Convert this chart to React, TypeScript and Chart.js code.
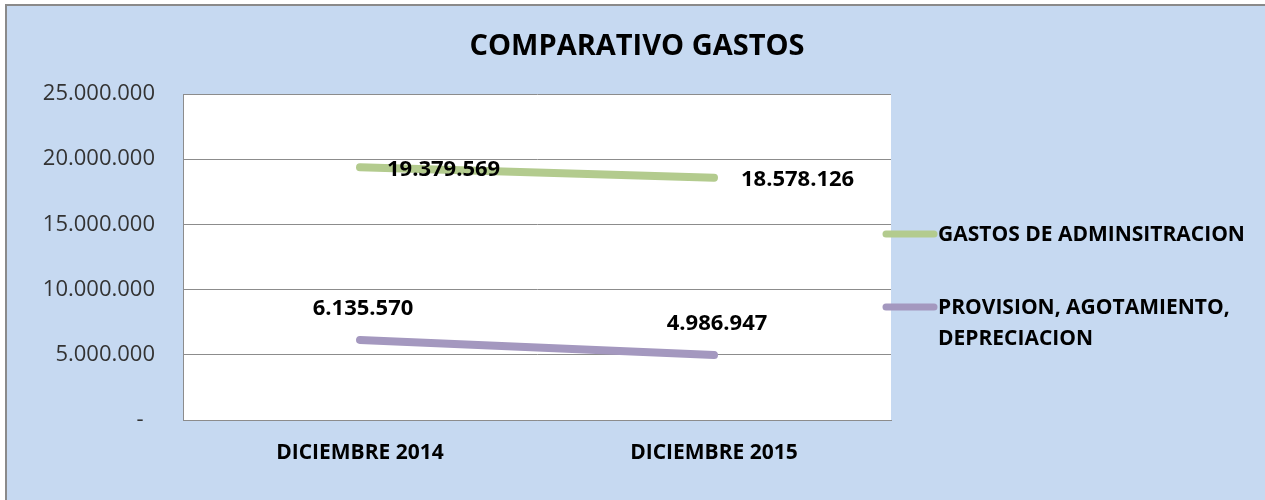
import React, { useEffect, useRef } from "react";
import { Chart, registerables } from "chart.js";

Chart.register(...registerables);

const TITLE = "COMPARATIVO GASTOS";
const categories = ["DICIEMBRE 2014", "DICIEMBRE 2015"];
const seriesNames = ["GASTOS DE ADMINSITRACION", "PROVISION, AGOTAMIENTO, DEPRECIACION"];
const gastosAdministracion = [19379569, 18578126];
const provisionAgotamiento = [6135570, 4986947];
const seriesColors = ["#b3cb8e", "#a498bf"];
const labelPositions = ["right", "above"];
const legendLines = [["GASTOS DE ADMINSITRACION"], ["PROVISION, AGOTAMIENTO,", "DEPRECIACION"]];
const yMax = 25000000;
const yStep = 5000000;

const FONT = "'Open Sans', 'DejaVu Sans', sans-serif";

function fmt(v: number): string {
  return Math.round(v).toString().replace(/\B(?=(\d{3})+(?!\d))/g, ".");
}

const overlayPlugin = {
  id: "overlay",
  afterDatasetsDraw(chart: any) {
    const ctx = chart.ctx;
    const area = chart.chartArea;
    ctx.save();
    // data labels
    ctx.fillStyle = "#000";
    ctx.font = `bold 22px ${FONT}`;
    ctx.textBaseline = "middle";
    chart.data.datasets.forEach((ds: any, di: number) => {
      const meta = chart.getDatasetMeta(di);
      meta.data.forEach((pt: any, i: number) => {
        const txt = fmt(ds.data[i]);
        if (labelPositions[di] === "right") {
          ctx.textAlign = "left";
          ctx.fillText(txt, pt.x + 27, pt.y + 2);
        } else {
          ctx.textAlign = "center";
          ctx.fillText(txt, pt.x + 3, pt.y - 31);
        }
      });
    });
    // title
    ctx.font = `bold 29px ${FONT}`;
    ctx.textAlign = "center";
    ctx.fillText(TITLE, 637, 47);
    // legend
    const legendY = [234, 307];
    ctx.font = `bold 21px ${FONT}`;
    ctx.textAlign = "left";
    legendLines.forEach((lines, i) => {
      const y = legendY[i];
      ctx.strokeStyle = seriesColors[i];
      ctx.lineWidth = 7;
      ctx.lineCap = "round";
      ctx.beginPath();
      ctx.moveTo(area.right - 5, y);
      ctx.lineTo(area.right + 43, y);
      ctx.stroke();
      lines.forEach((ln, j) => {
        ctx.fillStyle = "#000";
        ctx.fillText(ln, area.right + 47, y + 1 + j * 31);
      });
    });
    ctx.restore();
  },
  beforeDraw(chart: any) {
    const ctx = chart.ctx;
    const a = chart.chartArea;
    ctx.save();
    ctx.fillStyle = "#ffffff";
    ctx.fillRect(a.left, a.top, a.right - a.left, a.bottom - a.top);
    ctx.restore();
  },
};

export default function App() {
  const ref = useRef<HTMLCanvasElement>(null);
  useEffect(() => {
    if (!ref.current) return;
    const chart = new Chart(ref.current, {
      type: "line",
      data: {
        labels: categories,
        datasets: [
          {
            label: seriesNames[0],
            data: gastosAdministracion,
            borderColor: seriesColors[0],
            backgroundColor: seriesColors[0],
            borderWidth: 8,
            borderCapStyle: "round",
            pointRadius: 0,
            tension: 0,
          },
          {
            label: seriesNames[1],
            data: provisionAgotamiento,
            borderColor: seriesColors[1],
            backgroundColor: seriesColors[1],
            borderWidth: 8,
            borderCapStyle: "round",
            pointRadius: 0,
            tension: 0,
          },
        ],
      },
      options: {
        responsive: false,
        animation: false,
        layout: { padding: { left: 0, top: 94, right: 374, bottom: 0 } },
        plugins: {
          legend: { display: false },
          title: { display: false },
          tooltip: { enabled: false },
        },
        scales: {
          x: {
            offset: true,
            grid: { display: false, drawTicks: false },
            border: { display: true, color: "#8c8c8c", width: 1 },
            ticks: {
              color: "#000",
              font: { family: FONT, size: 21, weight: "bold" },
              padding: 20,
              maxRotation: 0,
            },
            afterFit: (s: any) => {
              s.height = 80;
            },
          },
          y: {
            min: 0,
            max: yMax,
            grid: { color: "#8c8c8c", lineWidth: 1, drawTicks: false },
            border: { display: true, color: "#8c8c8c", width: 1 },
            ticks: {
              stepSize: yStep,
              color: "#333333",
              font: { family: FONT, size: 22 },
              padding: 28,
              callback: (v: any) => (Number(v) === 0 ? "-  " : fmt(Number(v))),
            },
            afterFit: (s: any) => {
              s.width = 183;
            },
          },
        },
      },
      plugins: [overlayPlugin],
    } as any);
    return () => chart.destroy();
  }, []);

  return (
    <div style={{ position: "absolute", left: 0, top: 0, width: 1265, height: 500, overflow: "hidden" }}>
      <div
        style={{
          position: "absolute",
          left: 5,
          top: 4,
          width: 1300,
          height: 560,
          background: "#c6d9f1",
          borderLeft: "2px solid #8a8a8a",
          borderTop: "2px solid #8a8a8a",
        }}
      />
      <canvas ref={ref} width={1265} height={500} style={{ position: "absolute", left: 0, top: 0 }} />
    </div>
  );
}
